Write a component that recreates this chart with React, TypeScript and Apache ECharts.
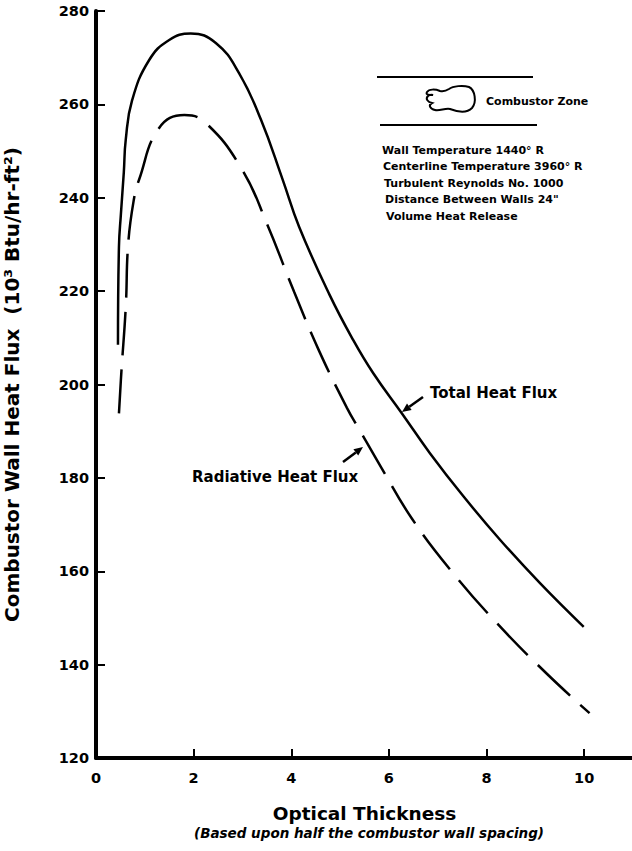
import React, { useEffect, useRef } from "react";
import * as echarts from "echarts";

const totalX = [0.45, 0.47, 0.51, 0.57, 0.61, 0.74, 1.09, 1.5, 1.94, 2.46, 2.93, 3.38, 3.82, 4.16, 4.78, 5.27, 5.68, 6.26, 6.84, 7.53, 8.28, 9.1, 9.99];
const totalY = [208.5, 229.5, 236.5, 245.5, 252.5, 260.9, 269.5, 273.8, 275.2, 273.1, 266.7, 256.7, 244.0, 233.8, 219.3, 209.5, 202.4, 193.9, 185.3, 176.0, 166.7, 157.4, 148.1];

const radX = [0.47, 0.52, 0.61, 0.66, 0.78, 0.88, 1.29, 1.81, 2.25, 3.0, 3.51, 4.06, 4.57, 5.14, 5.38, 5.85, 6.47, 7.29, 8.21, 9.23, 10.11];
const radY = [193.8, 202.7, 216.7, 230.2, 239.9, 243.8, 254.9, 257.7, 256.0, 245.9, 234.2, 219.8, 207.2, 195.0, 190.6, 182.1, 171.3, 159.9, 148.9, 138.1, 129.6];

const xTicks = { min: 0, max: 11, interval: 2 };
const yTicks = { min: 120, max: 280, interval: 20 };

const infoLines = [
  "Wall Temperature 1440° R",
  "Centerline Temperature 3960° R",
  "Turbulent Reynolds No. 1000",
  'Distance Between Walls 24"',
  "Volume Heat Release",
];

const FONT = '"DejaVu Sans", Arial, Helvetica, sans-serif';

let registered = false;
function registerBlob() {
  if (registered) return;
  registered = true;
  const d =
    "M2,6 C4,3 10,3 15,5 C19,6 21,5 24,3 C28,0 38,-1 44,1 C50,4 52,16 47,22 C42,27 33,26 25,23 C20,22 15,25 10,24 C5,23 3,19 7,17 C3,16 0,13 3,10 C5,8 8,9 8,9 C5,9 0,9 2,6 Z";
  echarts.graphic.registerShape("blob", echarts.graphic.extendPath(d, {}));
}

function arrow(tail: number[], tip: number[]) {
  const dx = tip[0] - tail[0];
  const dy = tip[1] - tail[1];
  const len = Math.sqrt(dx * dx + dy * dy);
  const ux = dx / len;
  const uy = dy / len;
  const hl = 9;
  const hw = 4;
  const bx = tip[0] - hl * ux;
  const by = tip[1] - hl * uy;
  const nx = -uy;
  const ny = ux;
  return [
    {
      type: "line",
      shape: { x1: tail[0], y1: tail[1], x2: bx, y2: by },
      style: { stroke: "#000", lineWidth: 2.5 },
    },
    {
      type: "polygon",
      shape: {
        points: [
          [tip[0], tip[1]],
          [bx + hw * nx, by + hw * ny],
          [bx - hw * nx, by - hw * ny],
        ],
      },
      style: { fill: "#000" },
    },
  ];
}

export default function App() {
  const ref = useRef<HTMLDivElement>(null);
  useEffect(() => {
    if (!ref.current) return;
    registerBlob();
    const chart = echarts.init(ref.current, null, { renderer: "svg" });
    const textStyle = (size: number, extra: any = {}) => ({
      fill: "#000",
      fontSize: size,
      fontWeight: "bold",
      fontFamily: FONT,
      ...extra,
    });
    const graphics: any[] = [
      { type: "line", shape: { x1: 377, y1: 77, x2: 533, y2: 77 }, style: { stroke: "#000", lineWidth: 2 } },
      { type: "line", shape: { x1: 380, y1: 125, x2: 537, y2: 125 }, style: { stroke: "#000", lineWidth: 2 } },
      { type: "blob", x: 425, y: 86, style: { fill: "none", stroke: "#000", lineWidth: 2 } },
      {
        type: "text",
        x: 486,
        y: 101,
        style: textStyle(11, { text: "Combustor Zone", textAlign: "left", textVerticalAlign: "middle" }),
      },
      ...infoLines.map((t, i) => ({
        type: "text",
        x: 382 + i,
        y: 150 + i * 16.5,
        style: textStyle(11, { text: t, textAlign: "left", textVerticalAlign: "middle" }),
      })),
      {
        type: "text",
        x: 430,
        y: 393,
        style: textStyle(15, { text: "Total Heat Flux", textAlign: "left", textVerticalAlign: "middle" }),
      },
      {
        type: "text",
        x: 192,
        y: 477,
        style: textStyle(15, { text: "Radiative Heat Flux", textAlign: "left", textVerticalAlign: "middle" }),
      },
      ...arrow([423, 397], [402, 412]),
      ...arrow([343, 462], [363, 447]),
      {
        type: "text",
        x: 369,
        y: 833,
        style: textStyle(13.5, {
          text: "(Based upon half the combustor wall spacing)",
          fontStyle: "italic",
          textAlign: "center",
          textVerticalAlign: "middle",
        }),
      },
    ];
    const axisLabel = {
      color: "#000",
      fontSize: 14.5,
      fontWeight: "bold",
      fontFamily: FONT,
    };
    chart.setOption({
      animation: false,
      backgroundColor: "#fff",
      grid: { left: 96, top: 11, width: 537, height: 747, containLabel: false, outerBoundsMode: "none" },
      xAxis: {
        type: "value",
        ...xTicks,
        axisLine: { lineStyle: { color: "#000", width: 4 } },
        axisTick: { inside: true, length: 9, lineStyle: { color: "#000", width: 2 } },
        axisLabel: { ...axisLabel, margin: 12, formatter: (v: number) => (v > 10 ? "" : String(v)) },
        splitLine: { show: false },
        name: "Optical Thickness",
        nameLocation: "middle",
        nameGap: 46,
        nameTextStyle: { color: "#000", fontSize: 18.5, fontWeight: "bold", fontFamily: FONT },
      },
      yAxis: {
        type: "value",
        ...yTicks,
        axisLine: { lineStyle: { color: "#000", width: 4 } },
        axisTick: { inside: true, length: 9, lineStyle: { color: "#000", width: 2 } },
        axisLabel: { ...axisLabel, margin: 7 },
        splitLine: { show: false },
        name: "Combustor Wall Heat Flux  (10³ Btu/hr-ft²)",
        nameLocation: "middle",
        nameRotate: 90,
        nameGap: 74,
        nameTextStyle: { color: "#000", fontSize: 20, fontWeight: "bold", fontFamily: FONT },
      },
      series: [
        {
          name: "Total Heat Flux",
          type: "line",
          data: totalX.map((x, i) => [x, totalY[i]]),
          showSymbol: false,
          smooth: 0.45,
          lineStyle: { color: "#000", width: 2.5 },
        },
        {
          name: "Radiative Heat Flux",
          type: "line",
          data: radX.map((x, i) => [x, radY[i]]),
          showSymbol: false,
          smooth: 0.45,
          lineStyle: { color: "#000", width: 2.5, type: [44, 14] },
        },
      ],
      graphic: graphics,
    });
    return () => chart.dispose();
  }, []);
  return <div ref={ref} style={{ width: 632, height: 851, position: "absolute", left: 0, top: 0 }} />;
}
